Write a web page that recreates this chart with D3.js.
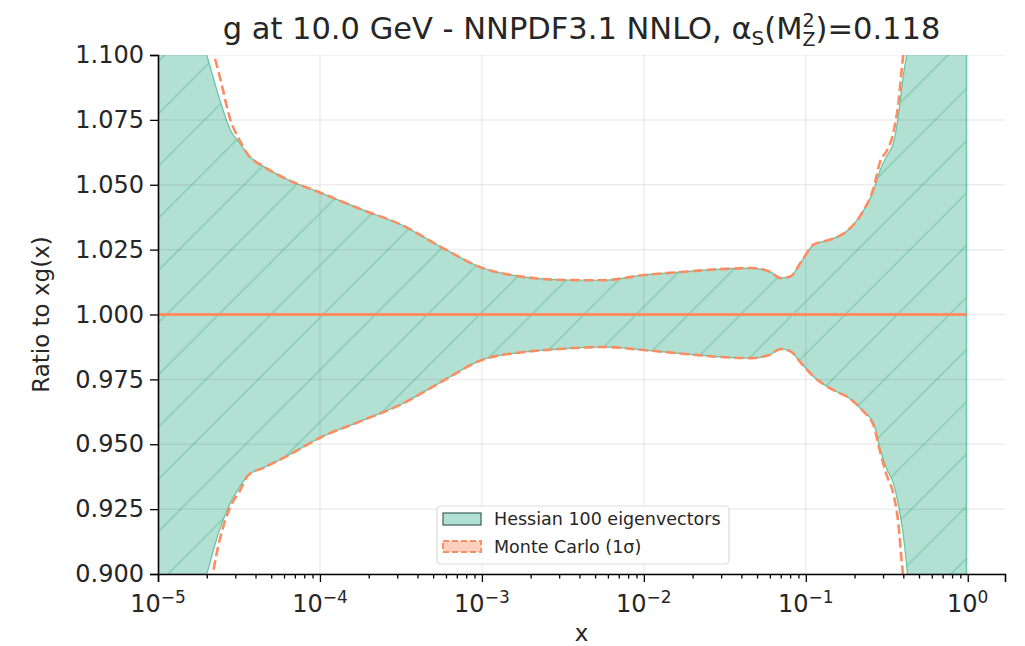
<!DOCTYPE html>
<html>
<head>
<meta charset="utf-8">
<script src="https://cdn.jsdelivr.net/npm/d3@7"></script>
<style>
  body { margin: 0; background: #fff; }
  text { font-family: "DejaVu Sans", sans-serif; fill: #262626; }
</style>
</head>
<body>
<div id="chart"></div>
<script>
// x grid shared by both bands
var xs = [1e-5, 1.41e-5, 2.0e-5, 2.4e-5, 2.8e-5, 3.2e-5, 3.6e-5, 4.5e-5, 6.3e-5, 1e-4,
          1.8e-4, 3.2e-4, 5.6e-4, 1e-3, 1.8e-3, 3.2e-3, 5.6e-3, 1e-2, 1.8e-2, 3.2e-2,
          0.046, 0.060, 0.070, 0.081, 0.093, 0.112, 0.126, 0.158, 0.178, 0.224,
          0.263, 0.288, 0.316, 0.347, 0.372, 0.398, 0.427, 0.5, 0.71, 0.98];

// Hessian 100 eigenvectors band (ratio to central)
var hessUp = [1.16, 1.13, 1.100, 1.083, 1.071, 1.066, 1.0615, 1.057, 1.052, 1.047,
              1.0405, 1.0345, 1.026, 1.018, 1.0145, 1.0133, 1.0132, 1.0152, 1.0165, 1.0176,
              1.0179, 1.0165, 1.014, 1.0148, 1.020, 1.027, 1.028, 1.030, 1.032, 1.0395,
              1.048, 1.0557, 1.061, 1.066, 1.076, 1.091, 1.103, 1.13, 1.2, 1.3];
var hessDn = [0.84, 0.87, 0.900, 0.917, 0.9274, 0.9336, 0.938, 0.941, 0.9455, 0.9525,
              0.959, 0.9655, 0.974, 0.9825, 0.9855, 0.9868, 0.9875, 0.9863, 0.9848, 0.9835,
              0.9832, 0.9845, 0.9867, 0.9857, 0.9815, 0.976, 0.9735, 0.970, 0.9685, 0.963,
              0.958, 0.948, 0.9405, 0.935, 0.927, 0.916, 0.899, 0.87, 0.8, 0.7];

// Monte Carlo 1 sigma band
var mcUp = [1.18, 1.145, 1.11, 1.092, 1.075, 1.067, 1.0615, 1.057, 1.052, 1.047,
            1.0405, 1.0345, 1.026, 1.018, 1.0145, 1.0133, 1.0132, 1.0152, 1.0165, 1.0176,
            1.0179, 1.0165, 1.014, 1.0148, 1.020, 1.027, 1.028, 1.030, 1.032, 1.0395,
            1.049, 1.059, 1.063, 1.070, 1.081, 1.099, 1.115, 1.15, 1.25, 1.35];
var mcDn = [0.82, 0.855, 0.888, 0.913, 0.926, 0.932, 0.938, 0.941, 0.9455, 0.9525,
            0.959, 0.9655, 0.974, 0.9825, 0.9855, 0.9868, 0.9875, 0.9863, 0.9848, 0.9835,
            0.9832, 0.9845, 0.9867, 0.9857, 0.9815, 0.976, 0.9735, 0.970, 0.9685, 0.963,
            0.957, 0.947, 0.938, 0.931, 0.920, 0.900, 0.89, 0.85, 0.78, 0.68];

var centralRatio = 1.0;
var yTicks = [0.900, 0.925, 0.950, 0.975, 1.000, 1.025, 1.050, 1.075, 1.100];
var xTicks = [1e-5, 1e-4, 1e-3, 1e-2, 1e-1, 1];
var xTickExp = ["\u22125", "\u22124", "\u22123", "\u22122", "\u22121", "0"];

var svgWidth = 1025;
var svgHeight = 646;
var margin = {top: 55, right: 20, bottom: 72, left: 158};
var width = svgWidth - margin.left - margin.right;
var height = svgHeight - margin.top - margin.bottom;

var svg = d3.select("#chart")
    .append("svg")
    .attr("width", svgWidth)
    .attr("height", svgHeight);

var defs = svg.append("defs");

// hatch like matplotlib "/"
var hs = 52.2;
var hatch = defs.append("pattern")
    .attr("id", "hatch")
    .attr("patternUnits", "userSpaceOnUse")
    .attr("x", 7).attr("y", 0)
    .attr("width", hs).attr("height", hs);
hatch.append("rect").attr("width", hs).attr("height", hs).attr("fill", "#b2e0d2");
hatch.append("path")
    .attr("d", `M0,${hs} L${hs},0 M-2,2 L2,-2 M${hs - 2},${hs + 2} L${hs + 2},${hs - 2}`)
    .attr("stroke", "#7fcbb2")
    .attr("stroke-width", 1.3);

defs.append("clipPath").attr("id", "plotclip")
    .append("rect").attr("width", width).attr("height", height);

var g = svg.append("g")
    .attr("transform", `translate(${margin.left}, ${margin.top})`);

// scales
var x = d3.scaleLog()
    .domain([1e-5, Math.pow(10, 0.23)])
    .range([0, width]);
var y = d3.scaleLinear()
    .domain([0.9, 1.1])
    .range([height, 0]);

var plot = g.append("g").attr("clip-path", "url(#plotclip)");

// hessian band
var band = d3.area()
    .x((d, i) => x(xs[i]))
    .y0((d, i) => y(hessDn[i]))
    .y1((d, i) => y(hessUp[i]))
    .curve(d3.curveMonotoneX);

plot.append("path")
    .attr("d", band(xs))
    .attr("fill", "url(#hatch)")
    .attr("stroke", "#66c2a5")
    .attr("stroke-width", 1.2);

// grid
plot.selectAll(".ygrid")
    .data(yTicks)
    .enter()
    .append("line")
    .attr("x1", 0).attr("x2", width)
    .attr("y1", d => y(d)).attr("y2", d => y(d))
    .attr("stroke", "#000").attr("stroke-opacity", 0.07).attr("stroke-width", 1.5);
plot.selectAll(".xgrid")
    .data(xTicks)
    .enter()
    .append("line")
    .attr("x1", d => x(d)).attr("x2", d => x(d))
    .attr("y1", 0).attr("y2", height)
    .attr("stroke", "#000").attr("stroke-opacity", 0.07).attr("stroke-width", 1.5);

// central line
plot.append("line")
    .attr("x1", x(xs[0])).attr("x2", x(xs[xs.length - 1]))
    .attr("y1", y(centralRatio)).attr("y2", y(centralRatio))
    .attr("stroke", "#fc8d62")
    .attr("stroke-width", 3);

// monte carlo dashed edges
[mcUp, mcDn].forEach(function (vals) {
    var line = d3.line()
        .x((d, i) => x(xs[i]))
        .y((d, i) => y(vals[i]))
        .curve(d3.curveMonotoneX);
    plot.append("path")
        .attr("d", line(xs))
        .attr("fill", "none")
        .attr("stroke", "#fc8d62")
        .attr("stroke-width", 2.6)
        .attr("stroke-dasharray", "9.5,4.2");
});

// axes
var yAxis = g.append("g")
    .call(d3.axisLeft(y).tickValues(yTicks).tickFormat(d3.format(".3f")).tickSize(8).tickPadding(6));
yAxis.selectAll("text").style("font-size", "24px").attr("fill", "#262626");

var minor = [];
for (var e = -5; e < 0; e++) {
    for (var m = 2; m <= 9; m++) minor.push(m * Math.pow(10, e));
}
minor.push(2, 3, 4, 5, 6, 7, 8, 9);
minor = minor.filter(d => d < x.domain()[1]);

var xAxisMinor = g.append("g")
    .attr("transform", `translate(0, ${height})`)
    .call(d3.axisBottom(x).tickValues(minor).tickFormat("").tickSize(4.5));
xAxisMinor.select(".domain").remove();

var xAxis = g.append("g")
    .attr("transform", `translate(0, ${height})`)
    .call(d3.axisBottom(x).tickValues(xTicks).tickFormat("").tickSize(8));

[xAxis, xAxisMinor, yAxis].forEach(function (ax) {
    ax.selectAll(".domain").attr("stroke", "#000").attr("stroke-width", 1.6);
    ax.selectAll(".tick line").attr("stroke", "#000").attr("stroke-width", 1.3);
});

// x tick labels 10^n
xTicks.forEach(function (t, i) {
    var lab = g.append("text")
        .attr("x", x(t))
        .attr("y", height + 38)
        .attr("text-anchor", "middle")
        .style("font-size", "24px");
    lab.append("tspan").text("10");
    lab.append("tspan").attr("dy", -9).style("font-size", "17px").text(xTickExp[i]);
});

// axis labels
g.append("text")
    .attr("x", width / 2)
    .attr("y", height + 67)
    .attr("text-anchor", "middle")
    .style("font-size", "23px")
    .text("x");

g.append("text")
    .attr("transform", `translate(${-109}, ${height / 2}) rotate(-90)`)
    .attr("text-anchor", "middle")
    .style("font-size", "23px")
    .text("Ratio to xg(x)");

// title
var title = svg.append("text")
    .attr("x", margin.left + width / 2)
    .attr("y", 39)
    .attr("text-anchor", "middle")
    .style("font-size", "30.5px");
title.append("tspan").text("g at 10.0 GeV - NNPDF3.1 NNLO, \u03b1");
title.append("tspan").attr("dy", 6).style("font-size", "20px").text("S");
title.append("tspan").attr("dy", -6).text("(M");
title.append("tspan").attr("dy", -12).style("font-size", "19px").text("2");
title.append("tspan").attr("dy", 19).attr("dx", -12.1).style("font-size", "19px").text("Z");
title.append("tspan").attr("dy", -7).text(")=0.118");

// legend
var legend = g.append("g")
    .attr("transform", `translate(${437 - margin.left}, ${506 - margin.top})`);
legend.append("rect")
    .attr("width", 292).attr("height", 58)
    .attr("rx", 4)
    .attr("fill", "#fff").attr("fill-opacity", 0.85)
    .attr("stroke", "#dcdcdc").attr("stroke-width", 1.2);
legend.append("rect")
    .attr("x", 6).attr("y", 7).attr("width", 38).attr("height", 12)
    .attr("fill", "#b2e0d2").attr("stroke", "#3f5f55").attr("stroke-width", 1.2);
legend.append("rect")
    .attr("x", 6).attr("y", 35).attr("width", 38).attr("height", 11)
    .attr("fill", "#fed0bd").attr("stroke", "#fc8d62").attr("stroke-width", 2)
    .attr("stroke-dasharray", "6,3");
legend.append("text")
    .attr("x", 57).attr("y", 19)
    .style("font-size", "17.5px")
    .text("Hessian 100 eigenvectors");
legend.append("text")
    .attr("x", 57).attr("y", 47)
    .style("font-size", "17.5px")
    .text("Monte Carlo (1\u03c3)");
</script>
</body>
</html>
